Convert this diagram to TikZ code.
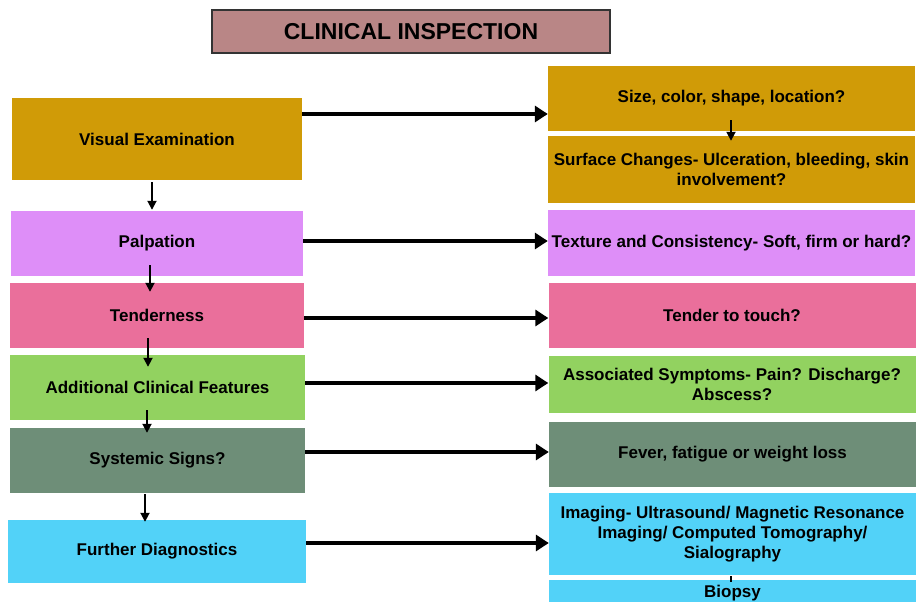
\documentclass[tikz,border=0pt]{standalone}
\usepackage{fontspec}
\setmainfont{Liberation Sans}
\usetikzlibrary{arrows.meta}
\definecolor{titlerose}{HTML}{B98686}
\definecolor{boxgold}{HTML}{D09B07}
\definecolor{boxviolet}{HTML}{DE8EF8}
\definecolor{boxpink}{HTML}{EA6F9B}
\definecolor{boxlime}{HTML}{92D260}
\definecolor{boxsage}{HTML}{6E8E78}
\definecolor{boxsky}{HTML}{52D2F8}
\begin{document}
\begin{tikzpicture}[x=1pt, y=-1pt, main/.style = {fill=#1, minimum width=292pt, minimum height=65pt, inner sep=0pt, align=center, font=\fontsize{17}{20}\selectfont\bfseries}, side/.style = {main=#1, minimum width=367pt}, link/.style = {line width=3.3pt, -{Triangle[length=13pt, width=16pt]}}, down/.style = {line width=1.8pt, -{Triangle[length=9pt, width=9pt]}}]
			\useasboundingbox (0,0) rectangle (918,602);
			\clip (0,0) rectangle (918,602);
			\node[draw=black!80, line width=1.2pt, fill=titlerose, minimum width=398pt, minimum height=43pt, font=\fontsize{23}{26}\selectfont\bfseries] (0) at (411,31.5) {CLINICAL INSPECTION};
			\node[main=boxgold, minimum width=290pt, minimum height=82pt] (1) at (157,139) {Visual Examination};
			\node[main=boxviolet] (2) at (157,243.5) {Palpation};
			\node[main=boxpink, minimum width=294pt] (3) at (157,315.5) {Tenderness};
			\node[main=boxlime, minimum width=295pt] (4) at (157.5,387.5) {Additional Clinical Features};
			\node[main=boxsage, minimum width=295pt] (5) at (157.5,460.5) {Systemic Signs?};
			\node[main=boxsky, minimum width=298pt, minimum height=63pt] (6) at (157,551.5) {Further Diagnostics};
			\node[side=boxgold] (7) at (731.5,98.5) {Size, color, shape, location?};
			\node[side=boxgold, minimum height=67pt] (8) at (731.5,169.5) {Surface Changes- Ulceration, bleeding, skin\\involvement?};
			\node[side=boxviolet, minimum height=66pt] (9) at (731.5,243) {Texture and Consistency- Soft, firm or hard?};
			\node[side=boxpink] (10) at (732,315.5) {Tender to touch?};
			\node[side=boxlime, minimum height=57pt] (11) at (732,384.5) {Associated Symptoms- Pain? Discharge?\\Abscess?};
			\node[side=boxsage] (12) at (732.5,454.5) {Fever, fatigue or weight loss};
			\node[side=boxsky, minimum height=82pt] (13) at (732.5,534) {Imaging- Ultrasound/ Magnetic Resonance\\Imaging/ Computed Tomography/\\Sialography};
			\node[side=boxsky, minimum height=26pt] (14) at (732.5,593) {Biopsy};
			\draw[link] ([yshift=25pt]1.east) -- ([yshift=25pt]1.east -| 7.west);
			\draw[link] ([yshift=2.5pt]2.east) -- ([yshift=2.5pt]2.east -| 9.west);
			\draw[link] ([yshift=-2.5pt]3.east) -- ([yshift=-2.5pt]3.east -| 10.west);
			\draw[link] ([yshift=4.5pt]4.east) -- ([yshift=4.5pt]4.east -| 11.west);
			\draw[link] ([yshift=8.5pt]5.east) -- ([yshift=8.5pt]5.east -| 12.west);
			\draw[link] ([yshift=8.5pt]6.east) -- ([yshift=8.5pt]6.east -| 13.west);
			\draw[down] ([shift={(-5,2)}]1.south) -- ([shift={(-5,-1)}]2.north);
			\draw[down] ([shift={(-7,-11)}]2.south) -- ([shift={(-7,9)}]3.north);
			\draw[down] ([shift={(-9,-10)}]3.south) -- ([shift={(-9.5,12)}]4.north);
			\draw[down] ([shift={(-10.5,-10)}]4.south) -- ([shift={(-10.5,5)}]5.north);
			\draw[down] ([shift={(-12.5,1)}]5.south) -- ([shift={(-12,2)}]6.north);
			\draw[down] ([shift={(-0.5,-11)}]7.south) -- ([shift={(-0.5,5)}]8.north);
			\draw[line width=1.2pt] ([shift={(-1.5,1)}]13.south) -- ([shift={(-1.5,2)}]14.north);
		\end{tikzpicture}
\end{document}
